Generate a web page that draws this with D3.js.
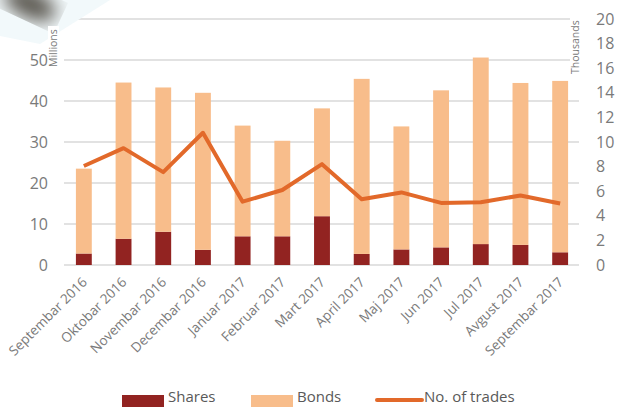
<!DOCTYPE html>
<html>
<head>
<meta charset="utf-8">
<script src="https://cdn.jsdelivr.net/npm/d3@7"></script>
<style>
  body { margin: 0; background: #fff; }
  svg { display: block; font-family: "Open Sans", "Noto Sans", sans-serif; }
</style>
</head>
<body>
<div class="chart-container"></div>
<script>
// months on the x axis
const months = [
  "Septembar 2016", "Oktobar 2016", "Novembar 2016", "Decembar 2016",
  "Januar 2017", "Februar 2017", "Mart 2017", "April 2017", "Maj 2017",
  "Jun 2017", "Jul 2017", "Avgust 2017", "Septembar 2017"
];
// millions
const shares = [2.8, 6.4, 8.1, 3.7, 7.0, 7.0, 11.9, 2.7, 3.8, 4.3, 5.1, 4.9, 3.1];
const bonds = [20.7, 38.1, 35.2, 38.3, 27.0, 23.3, 26.3, 42.7, 30.0, 38.3, 45.5, 39.5, 41.8];
// thousands
const trades = [8.05, 9.5, 7.55, 10.75, 5.15, 6.1, 8.2, 5.35, 5.9, 5.05, 5.1, 5.65, 5.0];

const leftTicks = [0, 10, 20, 30, 40, 50];
const rightTicks = [0, 2, 4, 6, 8, 10, 12, 14, 16, 18, 20];

function chart() {
  const w = 617;
  const h = 407;
  const left = 64, right = 580, top = 19, bottom = 265;

  const svg = d3
    .select(".chart-container")
    .append("svg")
    .attr("width", w)
    .attr("height", h);

  const data = months.map((m, i) => ({ month: m, shares: shares[i], bonds: bonds[i], trades: trades[i] }));

  const xScale = d3.scaleBand().domain(months).range([left, right]).paddingInner(0.6).paddingOuter(0.3);
  const yLeft = d3.scaleLinear().domain([0, 60]).range([bottom, top]);
  const yRight = d3.scaleLinear().domain([0, 20]).range([bottom, top]);

  // gridlines
  svg
    .append("g")
    .selectAll("line")
    .data(d3.range(0, 61, 10))
    .enter()
    .append("line")
    .attr("x1", left)
    .attr("x2", right - 1)
    .attr("y1", (d) => yLeft(d))
    .attr("y2", (d) => yLeft(d))
    .attr("stroke", "#d9d9d9")
    .attr("stroke-width", 1.5);

  // stacked bars
  const stack = d3.stack().keys(["shares", "bonds"])(data);
  const colors = { shares: "#922321", bonds: "#f8bd8b" };
  svg
    .append("g")
    .selectAll("g")
    .data(stack)
    .enter()
    .append("g")
    .attr("fill", (s) => colors[s.key])
    .selectAll("rect")
    .data((s) => s)
    .enter()
    .append("rect")
    .attr("x", (d) => xScale(d.data.month))
    .attr("width", xScale.bandwidth())
    .attr("y", (d) => yLeft(d[1]))
    .attr("height", (d) => yLeft(d[0]) - yLeft(d[1]));

  // line for no. of trades
  const line = d3
    .line()
    .x((d) => xScale(d.month) + xScale.bandwidth() / 2)
    .y((d) => yRight(d.trades));
  svg
    .append("path")
    .datum(data)
    .attr("d", line)
    .attr("fill", "none")
    .attr("stroke", "#e2692a")
    .attr("stroke-width", 4)
    .attr("stroke-linejoin", "round");

  // left axis
  const yAxis = d3.axisLeft(yLeft).tickValues(leftTicks).tickSize(0).tickPadding(0);
  const gy = svg.append("g").attr("transform", "translate(48,0)").call(yAxis);
  gy.select(".domain").remove();
  gy.selectAll("text").attr("font-size", 16).attr("fill", "#7a7a7a").attr("font-family", "Open Sans");

  // right axis
  const yAxisR = d3.axisRight(yRight).tickValues(rightTicks).tickSize(0).tickPadding(0);
  const gr = svg.append("g").attr("transform", "translate(596,0)").call(yAxisR);
  gr.select(".domain").remove();
  gr.selectAll("text").attr("font-size", 16).attr("fill", "#7a7a7a").attr("font-family", "Open Sans");

  // x axis labels
  const xAxis = d3.axisBottom(xScale).tickSize(0).tickPadding(0);
  const gx = svg.append("g").attr("transform", "translate(0," + (bottom + 18) + ")").call(xAxis);
  gx.select(".domain").remove();
  gx.selectAll("text")
    .attr("font-size", 13.5)
    .attr("fill", "#7a7a7a")
    .attr("font-family", "Open Sans")
    .attr("text-anchor", "end")
    .attr("dy", 0)
    .attr("y", 0)
    .attr("transform", "translate(4,0) rotate(-45)");

  // decorative slide corner
  const defs = svg.append("defs");
  defs.append("filter").attr("id", "blur").append("feGaussianBlur").attr("stdDeviation", 9);
  svg.append("polygon").attr("points", "0,0 110,0 40,44 0,36").attr("fill", "#f2f9fb");
  svg
    .append("ellipse")
    .attr("cx", 30)
    .attr("cy", 4)
    .attr("rx", 28)
    .attr("ry", 14)
    .attr("transform", "rotate(25,30,4)")
    .attr("fill", "#5a5650")
    .attr("filter", "url(#blur)");

  // unit labels
  svg.append("rect").attr("x", 48).attr("y", 26).attr("width", 11).attr("height", 42).attr("fill", "#fff");
  svg
    .append("text")
    .attr("transform", "translate(57,67) rotate(-90)")
    .attr("font-size", 10.5)
    .attr("fill", "#7a7a7a")
    .text("Millions");
  svg.append("rect").attr("x", 570).attr("y", 16).attr("width", 11).attr("height", 60).attr("fill", "#fff");
  svg
    .append("text")
    .attr("transform", "translate(579,74) rotate(-90)")
    .attr("font-size", 10.5)
    .attr("fill", "#7a7a7a")
    .text("Thousands");

  // legend
  const legend = [
    { name: "Shares", type: "rect", color: colors.shares, x: 122, tx: 168 },
    { name: "Bonds", type: "rect", color: colors.bonds, x: 251, tx: 297 },
    { name: "No. of trades", type: "line", color: "#e2692a", x: 377, tx: 424 }
  ];
  const lg = svg.append("g").selectAll("g").data(legend).enter().append("g");
  lg.filter((d) => d.type === "rect")
    .append("rect")
    .attr("x", (d) => d.x)
    .attr("y", 395)
    .attr("width", 42)
    .attr("height", 12)
    .attr("fill", (d) => d.color);
  lg.filter((d) => d.type === "line")
    .append("line")
    .attr("x1", (d) => d.x)
    .attr("x2", (d) => d.x + 45)
    .attr("y1", 400)
    .attr("y2", 400)
    .attr("stroke", (d) => d.color)
    .attr("stroke-width", 4)
    .attr("stroke-linecap", "round");
  lg.append("text")
    .attr("x", (d) => d.tx)
    .attr("y", 402)
    .attr("font-size", 15)
    .attr("fill", "#595959")
    .text((d) => d.name);
}

chart();
</script>
</body>
</html>
